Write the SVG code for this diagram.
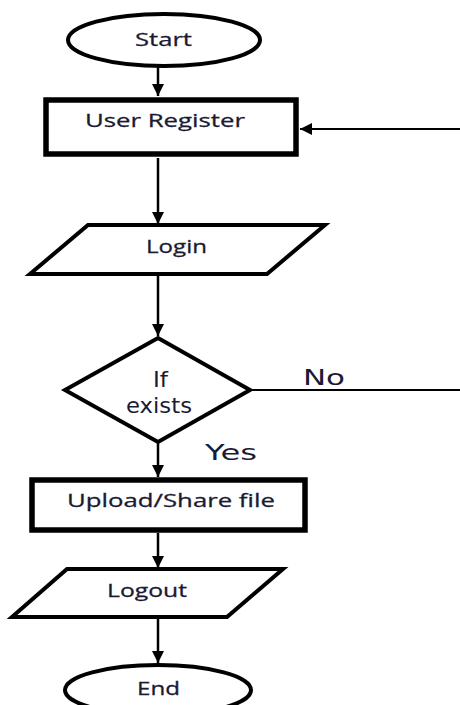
<svg xmlns="http://www.w3.org/2000/svg" width="460" height="705" viewBox="0 0 460 705">
<defs>
<marker id="ah" viewBox="0 0 12 12" refX="12" refY="6" markerWidth="12" markerHeight="12" markerUnits="userSpaceOnUse" orient="auto">
<path d="M0,0 L12,6 L0,12 Z" fill="#000"/>
</marker>
</defs>
<style>
.shape{fill:#fff;stroke:#000;stroke-width:4;stroke-linejoin:miter}
.box{fill:#fff;stroke:#000;stroke-width:5.5}
.lbl{font-family:"Open Sans","Liberation Sans",sans-serif;font-size:19px;fill:#1a1a33;stroke:#1a1a33;stroke-width:0.3}
.lbl2{font-family:"DejaVu Sans","Liberation Sans",sans-serif;font-size:21px;fill:#1a1a33}
.edge{stroke:#000;stroke-width:2.5;fill:none}
.thin{stroke:#000;stroke-width:1.8;fill:none}
</style>
<rect width="460" height="705" fill="#fff"/>
<g id="connectors">
<line class="edge" x1="158" y1="67" x2="158" y2="96" marker-end="url(#ah)"/>
<line class="thin" x1="460" y1="129" x2="300" y2="129" marker-end="url(#ah)"/>
<line class="edge" x1="158" y1="158" x2="158" y2="224" marker-end="url(#ah)"/>
<line class="edge" x1="158" y1="275" x2="158" y2="336" marker-end="url(#ah)"/>
<line class="thin" x1="250" y1="390" x2="460" y2="390"/>
<line class="edge" x1="158" y1="442" x2="158" y2="477" marker-end="url(#ah)"/>
<line class="edge" x1="158" y1="533" x2="158" y2="568" marker-end="url(#ah)"/>
<line class="edge" x1="158" y1="618" x2="158" y2="663" marker-end="url(#ah)"/>
<text class="lbl2" x="303" y="385" textLength="42" lengthAdjust="spacingAndGlyphs">No</text>
<text class="lbl2" x="205" y="460" textLength="52" lengthAdjust="spacingAndGlyphs">Yes</text>
</g>
<g id="start">
<ellipse class="shape" cx="164" cy="40" rx="96" ry="26"/>
<text class="lbl" x="135" y="46" textLength="57" lengthAdjust="spacingAndGlyphs">Start</text>
</g>
<g id="user-register">
<rect class="box" x="46" y="100" width="250" height="54"/>
<text class="lbl" x="85" y="127" textLength="160" lengthAdjust="spacingAndGlyphs">User Register</text>
</g>
<g id="login">
<polygon class="shape" points="88,225 325,225 267,274 30,274"/>
<text class="lbl" x="146" y="253" textLength="61" lengthAdjust="spacingAndGlyphs">Login</text>
</g>
<g id="if-exists">
<polygon class="shape" points="158,338 250,390 158,442 65,390"/>
<text class="lbl2" x="153" y="387" textLength="15" lengthAdjust="spacingAndGlyphs">If</text>
<text class="lbl2" x="126" y="413" textLength="66" lengthAdjust="spacingAndGlyphs">exists</text>
</g>
<g id="upload-share">
<rect class="box" x="32" y="480" width="273" height="50"/>
<text class="lbl" x="67" y="507" textLength="208" lengthAdjust="spacingAndGlyphs">Upload/Share file</text>
</g>
<g id="logout">
<polygon class="shape" points="67,569 283,569 227,617 12,617"/>
<text class="lbl" x="107" y="597" textLength="80" lengthAdjust="spacingAndGlyphs">Logout</text>
</g>
<g id="end">
<ellipse class="shape" cx="158" cy="690" rx="93" ry="25"/>
<text class="lbl" x="137" y="695" textLength="43" lengthAdjust="spacingAndGlyphs">End</text>
</g>
</svg>
